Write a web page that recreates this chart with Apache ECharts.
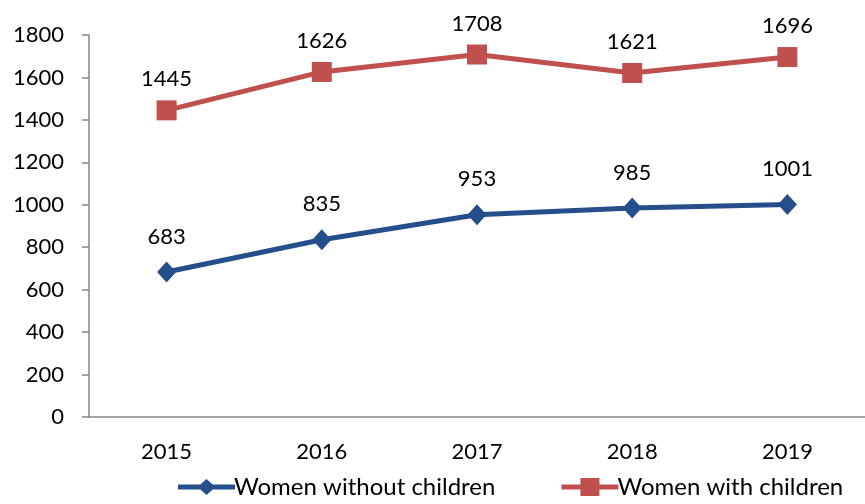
<!DOCTYPE html>
<html>
<head>
<meta charset="utf-8">
<script src="https://cdn.jsdelivr.net/npm/echarts@6/dist/echarts.min.js"></script>
<style>
  html, body { margin: 0; padding: 0; background: #fff; }
  #charts { width: 865px; height: 504px; }
</style>
</head>
<body>
<div id="charts"></div>
<script>
var years = ['2015', '2016', '2017', '2018', '2019'];
var withoutChildren = [683, 835, 953, 985, 1001];
var withChildren = [1445, 1626, 1708, 1621, 1696];

var font = 'Lato, "Open Sans", sans-serif';
// legend icons: thick line with the marker in the middle
var diamondIcon = 'path://M0,6.5 L57,6.5 L57,11.5 L0,11.5 Z M28.5,1 L37.5,9 L28.5,17 L19.5,9 Z';
var squareIcon = 'path://M0,6.5 L57,6.5 L57,11.5 L0,11.5 Z M19,0 L38,0 L38,18 L19,18 Z';

var myChart = echarts.init(document.getElementById('charts'));
var option = {
    animation: false,
    textStyle: { fontFamily: font },
    grid: {
        left: 89,
        right: -5,
        top: 35,
        bottom: 87
    },
    legend: {
        bottom: 0,
        left: 173,
        itemGap: 66,
        itemWidth: 57,
        itemHeight: 18,
        textStyle: { fontSize: 24, color: '#000', fontFamily: font, padding: [0, 0, 0, -6] },
        data: [
            { name: 'Women without children', icon: diamondIcon },
            { name: 'Women with children', icon: squareIcon }
        ]
    },
    xAxis: {
        type: 'category',
        data: years,
        boundaryGap: true,
        axisLine: { lineStyle: { color: '#868686', width: 1.5 } },
        axisTick: { length: 7, lineStyle: { color: '#868686', width: 1.5 } },
        axisLabel: { fontSize: 22, color: '#000', margin: 24 }
    },
    yAxis: {
        type: 'value',
        min: 0,
        max: 1800,
        interval: 200,
        splitLine: { show: false },
        axisLine: { show: true, lineStyle: { color: '#868686', width: 1.5 } },
        axisTick: { show: true, length: 7, lineStyle: { color: '#868686', width: 1.5 } },
        axisLabel: {
            fontSize: 22, color: '#000', margin: 25,
            formatter: function (v) { return String(v); }
        }
    },
    series: [{
        name: 'Women without children',
        type: 'line',
        data: withoutChildren,
        symbol: 'diamond',
        symbolSize: [19, 21],
        color: '#254F8A',
        lineStyle: { width: 5 },
        label: { show: true, position: 'top', distance: 14, fontSize: 22, color: '#000' }
    }, {
        name: 'Women with children',
        type: 'line',
        data: withChildren,
        symbol: 'rect',
        symbolSize: 20,
        color: '#C0504D',
        lineStyle: { width: 5 },
        label: { show: true, position: 'top', distance: 10, fontSize: 22, color: '#000' }
    }]
};
myChart.setOption(option);
</script>
</body>
</html>
